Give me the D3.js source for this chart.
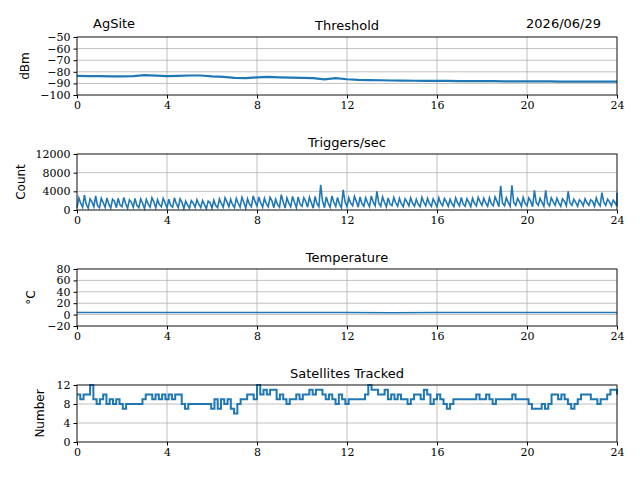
<!DOCTYPE html>
<html lang="en">
<head>
<meta charset="utf-8">
<title>AgSite</title>
<script src="https://d3js.org/d3.v7.min.js"></script>
<style>body{margin:0;background:#fff}</style>
</head>
<body>
<script>
// hours on x axis, samples evenly spaced over 0..24
var hourTicks = [0, 4, 8, 12, 16, 20, 24];

var threshold = [-83.5,-83.7,-83.8,-84,-84,-83.8,-82.8,-83.3,-83.8,-83.5,-83.2,-83.2,-84,-84.3,-85.3,-85.4,-84.8,-84.4,-84.8,-85,-85.2,-85.5,-86.5,-85.5,-86.4,-87,-87.2,-87.3,-87.5,-87.6,-87.7,-87.8,-87.8,-87.9,-88,-88,-88,-88.1,-88.2,-88.2,-88.3,-88.3,-88.3,-88.4,-88.4,-88.5,-88.5,-88.5,-88.5];

var trigLow = [500,600,400,700,500,600,400,500,700,400,600,500,300,600,500,700,400,600,500,300,400,600,500,300,400,500,600,700,500,600,400,700,800,600,700,500,600,400,700,500,800,600,400,700,500,600,800,500,700,900,600,800,700,900,800,700,900,800,700,900,800,700,900,800,700,900,800,700,900,800,700,900,1000,800,900,700,900,800,1000,800,900,700,1000,800,900,1000,800,900,1000,800,900,1000,800,900,1000,900,800];
var trigHigh = [2600,3200,2400,3000,2500,2600,2300,2500,2700,2200,2500,2400,2300,2600,2200,2500,2300,2600,2400,1900,2000,2200,2000,1900,2100,2400,2600,2300,2500,2700,2400,3000,2800,2500,2700,2300,3300,2600,2900,2800,2600,2700,2900,5400,2800,3000,2700,4300,2600,2900,2800,2600,3000,4000,2800,2600,2700,2500,2400,2600,2300,2700,2500,2400,2600,2500,2300,2600,2700,2400,2500,2700,2500,2600,2800,5200,2600,5300,2500,2700,2600,4200,2500,4200,2600,2500,2400,4000,2300,2200,2400,2200,2600,3700,2300,2100,3700];
var trigMid = [1500,1200,1800,1000,1600,1300,1900,1100,1400,1700,1000,1500,1300,1800,1200,1600,1000,1400,1700,1100,1500,1300,1200,1600,1000,1400,1800,1200,1500,1700,1300,1900,1600,1400,2000,1200,1800,1500,1700,1300,1900,1600,1400,2000,1500,1700,1300,1800,1500,1900,1400,1600,1800,1500,1700,1300,1600,1400,1800,1500,1300,1700,1400,1600,1500,1800,1400,1600,1300,1700,1500,1800,1600,1400,1900,1500,1700,1600,1800,1500,1900,1600,1700,1500,1800,1600,1900,1500,1700,1800,1600,1900,1500,1700,1800,1600,1700];

var temperature = [3.5,3.5,3.6,3.6,3.5,3.5,3.5,3.4,3.5,3.5,3.5,3.6,3.5];

var satellites = [10,9,10,10,12,9,8,9,10,8,9,8,9,8,7,8,8,8,8,8,9,10,10,9,10,9,10,9,10,9,10,10,8,7,8,8,8,8,8,8,8,7,9,7,9,8,9,7,6,8,9,9,10,10,9,12,10,11,10,11,11,9,10,9,8,9,9,10,9,10,10,11,10,11,11,10,9,10,9,8,10,9,8,9,9,9,9,9,10,12,11,11,10,10,11,9,10,9,10,9,9,8,9,10,10,9,11,10,8,9,10,9,8,7,8,9,9,9,9,9,9,9,10,9,9,10,9,8,9,9,9,9,9,10,9,9,9,9,8,7,7,7,8,7,8,10,10,9,10,9,8,7,8,9,10,10,10,9,9,8,9,9,10,11,11,10];

var W = 640, H = 480, left = 77, right = 617;
var svg = d3.select("body").append("svg").attr("width", W).attr("height", H);
var blue = "#1f77b4";
var tickFont = "'DejaVu Serif', serif";
var labelFont = "'DejaVu Sans', sans-serif";

var x = d3.scaleLinear().domain([0, 24]).range([left, right]);

function panel(top, bottom, domain, yTicks, title, ylabel, labelX) {
  var y = d3.scaleLinear().domain(domain).range([bottom, top]);
  var g = svg.append("g");
  g.selectAll("line.vg").data(hourTicks).enter().append("line")
    .attr("x1", d => x(d)).attr("x2", d => x(d)).attr("y1", top).attr("y2", bottom)
    .attr("stroke", "#b0b0b0").attr("stroke-width", 0.8);
  g.selectAll("line.hg").data(yTicks).enter().append("line")
    .attr("x1", left).attr("x2", right).attr("y1", d => y(d)).attr("y2", d => y(d))
    .attr("stroke", "#b0b0b0").attr("stroke-width", 0.8);
  var xa = g.append("g").attr("transform", "translate(0," + bottom + ")")
    .call(d3.axisBottom(x).tickValues(hourTicks).tickSize(3.5).tickFormat(d3.format("d")));
  var ya = g.append("g").attr("transform", "translate(" + left + ",0)")
    .call(d3.axisLeft(y).tickValues(yTicks).tickSize(3.5).tickFormat(d => d < 0 ? "\u2212" + (-d) : d));
  [xa, ya].forEach(a => {
    a.select(".domain").remove();
    a.selectAll("text").attr("font-family", tickFont).attr("font-size", 11).attr("fill", "#000");
    a.selectAll("line").attr("stroke", "#000");
  });
  g.append("text").attr("x", (left + right) / 2).attr("y", top - 7).attr("text-anchor", "middle")
    .attr("font-family", labelFont).attr("font-size", 13).text(title);
  g.append("text").attr("transform", "translate(" + labelX + "," + ((top + bottom) / 2) + ") rotate(-90)")
    .attr("text-anchor", "middle").attr("font-family", labelFont).attr("font-size", 12).text(ylabel);
  return {g: g, y: y, top: top, bottom: bottom};
}

function frame(p) {
  p.g.append("rect").attr("x", left).attr("y", p.top).attr("width", right - left)
    .attr("height", p.bottom - p.top).attr("fill", "none").attr("stroke", "#000").attr("stroke-width", 0.8);
}

function t(arr, i) { return 24 * i / (arr.length - 1); }

// Threshold
var p1 = panel(37, 95, [-100, -50], [-100, -90, -80, -70, -60, -50], "Threshold", "dBm", 29);
p1.g.append("path").datum(threshold).attr("fill", "none").attr("stroke", blue).attr("stroke-width", 2.2)
  .attr("d", d3.line().x((d, i) => x(t(threshold, i))).y(d => p1.y(d)));
frame(p1);
svg.append("text").attr("x", 93).attr("y", 28).attr("font-family", labelFont).attr("font-size", 13).text("AgSite");
svg.append("text").attr("x", 601).attr("y", 28).attr("text-anchor", "end").attr("font-family", labelFont).attr("font-size", 13).text("2026/06/29");

// Triggers: low / high / mid per sample
var p2 = panel(154, 210, [0, 12000], [0, 4000, 8000, 12000], "Triggers/sec", "Count", 25);
var trig = [];
trigLow.forEach((d, i) => {
  var tt = t(trigLow, i);
  trig.push([tt, d]);
  trig.push([Math.min(24, tt + 0.08), trigHigh[i]]);
  trig.push([Math.min(24, tt + 0.16), trigMid[i]]);
});
p2.g.append("path").datum(trig).attr("fill", "none").attr("stroke", blue).attr("stroke-width", 1.6)
  .attr("d", d3.line().x(d => x(d[0])).y(d => p2.y(d[1])));
frame(p2);

// Temperature
var p3 = panel(269, 326, [-20, 80], [-20, 0, 20, 40, 60, 80], "Temperature", "\u00b0C", 35);
p3.g.append("path").datum(temperature).attr("fill", "none").attr("stroke", blue).attr("stroke-width", 1.5)
  .attr("d", d3.line().x((d, i) => x(t(temperature, i))).y(d => p3.y(d)));
frame(p3);

// Satellites
var p4 = panel(385, 442, [0, 12], [0, 4, 8, 12], "Satellites Tracked", "Number", 44);
p4.g.append("path").datum(satellites).attr("fill", "none").attr("stroke", blue).attr("stroke-width", 2)
  .attr("d", d3.line().x((d, i) => x(t(satellites, i))).y(d => p4.y(d)).curve(d3.curveStepAfter));
frame(p4);
</script>
</body>
</html>
